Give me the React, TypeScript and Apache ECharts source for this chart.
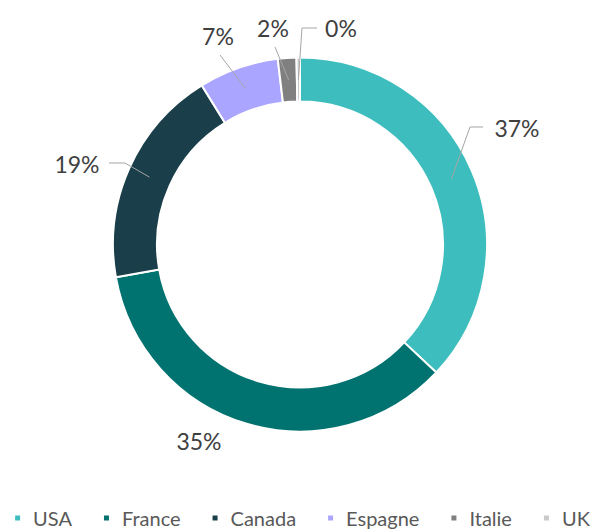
import React, { useEffect, useRef } from 'react';
import * as echarts from 'echarts';

const categories = ['USA', 'France', 'Canada', 'Espagne', 'Italie', 'UK'];
const values = [37.0, 35.2, 19.0, 6.9, 1.6, 0.3];
const colors = ['#3DBDBD', '#00726F', '#1A3F4A', '#AAA6FF', '#808080', '#C9C9C9'];

const CENTER = [300, 244.5];
const RADII = [143, 187];
// label anchor and leader-line elbows (layout only)
const LABEL_LAYOUT: { x: number; y: number; line: number[][] | null }[] = [
  { x: 517, y: 128, line: [[470, 127], [483, 127]] },
  { x: 199, y: 441, line: null },
  { x: 77, y: 164, line: [[125, 163], [109, 163]] },
  { x: 218, y: 36, line: [[220, 55], [220, 55]] },
  { x: 273, y: 28, line: [[275, 47], [275, 47]] },
  { x: 341, y: 28, line: [[302, 28], [317, 28]] },
];

const FONT = 'Lato, "Open Sans", sans-serif';

export default function App() {
  const ref = useRef<HTMLDivElement>(null);
  useEffect(() => {
    document.body.style.margin = '0';
    if (!ref.current) return;
    const chart = echarts.init(ref.current, undefined, { renderer: 'svg' });
    const total = values.reduce((a, b) => a + b, 0);
    const cum: number[] = [];
    let acc = 0;
    values.forEach((v) => {
      cum.push(acc);
      acc += v;
    });
    const rMid = (RADII[0] + RADII[1]) / 2;
    const base = {
      type: 'pie',
      center: CENTER,
      radius: RADII,
      startAngle: 90,
      clockwise: true,
      avoidLabelOverlap: false,
    };
    chart.setOption({
      animation: false,
      color: colors,
      legend: {
        data: categories,
        left: 'center',
        top: 503,
        icon: 'rect',
        itemWidth: 7,
        itemHeight: 7,
        itemGap: 30,
        textStyle: {
          fontFamily: FONT,
          fontSize: 20,
          color: '#595959',
          padding: [0, 0, 0, 7],
        },
      },
      series: [
        {
          ...base,
          z: 2,
          itemStyle: { borderColor: '#ffffff', borderWidth: 2 },
          label: { show: false },
          labelLine: { show: false },
          data: categories.map((name, i) => ({ name, value: values[i] })),
        },
        {
          ...base,
          z: 3,
          silent: true,
          itemStyle: { color: 'rgba(0,0,0,0)', borderWidth: 0 },
          label: {
            show: true,
            position: 'outside',
            fontFamily: FONT,
            fontSize: 23,
            color: '#404040',
            formatter: (p: any) => `${Math.round((p.value / total) * 100)}%`,
          },
          labelLine: {
            show: true,
            length: 10,
            length2: 10,
            lineStyle: { color: '#A6A6A6', width: 1 },
          },
          labelLayout: (params: any) => {
            const i = params.dataIndex;
            const L = LABEL_LAYOUT[i];
            const frac = (cum[i] + values[i] / 2) / total;
            const th = frac * Math.PI * 2;
            const start = [CENTER[0] + rMid * Math.sin(th), CENTER[1] - rMid * Math.cos(th)];
            const out: any = { x: L.x, y: L.y, align: 'center', verticalAlign: 'middle' };
            if (L.line) out.labelLinePoints = [start, ...L.line];
            return out;
          },
          data: categories.map((name, i) => ({
            name,
            value: values[i],
            labelLine: { show: LABEL_LAYOUT[i].line !== null },
          })),
        },
      ],
    });
    return () => chart.dispose();
  }, []);
  return <div ref={ref} style={{ width: 603, height: 532 }} />;
}
